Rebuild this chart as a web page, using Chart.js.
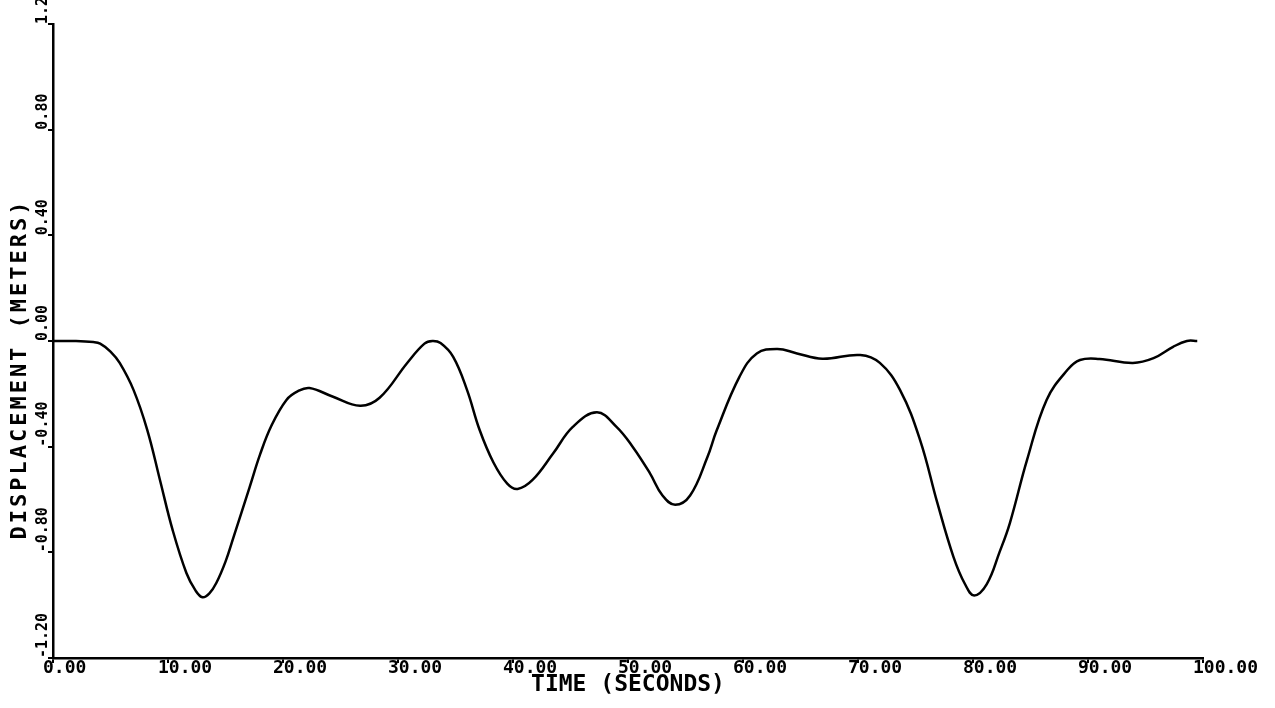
<!DOCTYPE html>
<html>
<head>
<meta charset="utf-8">
<script src="https://cdn.jsdelivr.net/npm/chart.js@4.4.0/dist/chart.umd.min.js"></script>
<style>
html, body { margin: 0; padding: 0; background: #fff; }
</style>
</head>
<body>
<canvas id="myChart" width="1275" height="708"></canvas>
<script>
// time in seconds
var timeSec = [0, 2.0, 3.5, 4.1, 5.0, 5.8, 7.0, 8.2, 9.3, 10.4, 11.6, 12.4, 13.0, 13.6, 14.2, 15.0, 15.7,
  17.1, 18.0, 19.0, 20.3, 21.3, 22.3, 24.3, 26.7, 28.4, 30.8, 32.3, 33.0, 33.7, 34.8, 36.0, 37.1, 38.3, 39.5,
  40.4, 41.7, 43.5, 45.2, 47.3, 49.0, 50.4, 51.9, 53.0, 54.1, 55.4, 56.9, 57.7, 59.7, 61.2, 63.0,
  64.7, 66.9, 70.2, 71.9, 73.65, 75.4, 76.9, 78.3, 79.3, 80.1, 81.2, 82.3, 83.2, 84.7, 86.4, 88.2,
  89.3, 91.0, 93.9, 95.7, 97.4, 98.6, 99.5];
// displacement in meters
var displacement = [0.0, 0.0, -0.004, -0.01, -0.04, -0.083, -0.185, -0.337, -0.526, -0.715, -0.878, -0.945, -0.97, -0.955, -0.916, -0.835, -0.742,
  -0.553, -0.43, -0.32, -0.223, -0.19, -0.178, -0.21, -0.245, -0.215, -0.083, -0.01, 0.0, -0.008, -0.06, -0.185, -0.337, -0.46, -0.54,
  -0.56, -0.526, -0.425, -0.325, -0.27, -0.325, -0.40, -0.50, -0.585, -0.62, -0.585, -0.44, -0.34, -0.135, -0.047, -0.03,
  -0.047, -0.067, -0.053, -0.083, -0.185, -0.375, -0.613, -0.817, -0.92, -0.963, -0.92, -0.80, -0.69, -0.45, -0.223, -0.11,
  -0.072, -0.068, -0.083, -0.065, -0.022, 0.0, 0.0];

var xAxisTitle = 'TIME (SECONDS)';
var yAxisTitle = 'DISPLACEMENT (METERS)';

var points = [];
for (var i = 0; i < timeSec.length; i++) {
  points.push({ x: timeSec[i], y: displacement[i] });
}

var plotFont = 'DejaVu Sans Mono';

// y title drawn by hand so it can sit off-centre like the original
var yTitlePlugin = {
  id: 'yTitle',
  afterDraw: function(chart) {
    var c = chart.ctx;
    c.save();
    c.translate(20, 369);
    c.rotate(-Math.PI / 2);
    c.font = 'bold 22px "' + plotFont + '"';
    if ('letterSpacing' in c) c.letterSpacing = '3px';
    c.textAlign = 'center';
    c.textBaseline = 'middle';
    c.fillStyle = '#000';
    c.fillText(yAxisTitle, 0, 0);
    c.restore();
  }
};

var ctx = document.getElementById('myChart');
var myChart = new Chart(ctx, {
  type: 'line',
  data: {
    datasets: [{
      data: points,
      borderColor: '#000',
      borderWidth: 2.5,
      pointRadius: 0,
      fill: false,
      tension: 0.4
    }]
  },
  options: {
    responsive: false,
    animation: false,
    layout: { padding: { left: 0, top: 24, right: 72, bottom: 0 } },
    plugins: {
      legend: { display: false },
      tooltip: { enabled: false }
    },
    scales: {
      x: {
        type: 'linear',
        min: 0,
        max: 100,
        ticks: {
          stepSize: 10,
          autoSkip: false,
          maxRotation: 0,
          align: 'start',
          labelOffset: -10,
          padding: -4,
          color: '#000',
          font: { family: plotFont, weight: 'bold', size: 18, lineHeight: 1 },
          callback: function(v) { return v.toFixed(2); }
        },
        grid: { drawOnChartArea: false, tickLength: 5, color: '#000', lineWidth: 2 },
        border: { color: '#000', width: 2.5 },
        title: {
          display: true,
          text: xAxisTitle,
          color: '#000',
          font: { family: plotFont, weight: 'bold', size: 23, lineHeight: 1 },
          padding: { top: 0, bottom: 11 }
        },
        afterFit: function(s) { s.height = 50; }
      },
      y: {
        min: -1.2,
        max: 1.2,
        ticks: {
          stepSize: 0.4,
          minRotation: 90,
          maxRotation: 90,
          mirror: true,
          crossAlign: 'near',
          padding: -10,
          labelOffset: 0,
          color: '#000',
          font: { family: plotFont, weight: 'bold', size: 15, lineHeight: 1 },
          callback: function(v) {
            if (Math.abs(v) < 1e-9) v = 0;
            if (Math.abs(v - 1.2) < 1e-9) return '1.2';
            return v.toFixed(2);
          }
        },
        grid: { drawOnChartArea: false, tickLength: 5, color: '#000', lineWidth: 2 },
        border: { color: '#000', width: 2.5 },
        afterFit: function(s) { s.width = 53; }
      }
    }
  },
  plugins: [yTitlePlugin]
});
</script>
</body>
</html>
